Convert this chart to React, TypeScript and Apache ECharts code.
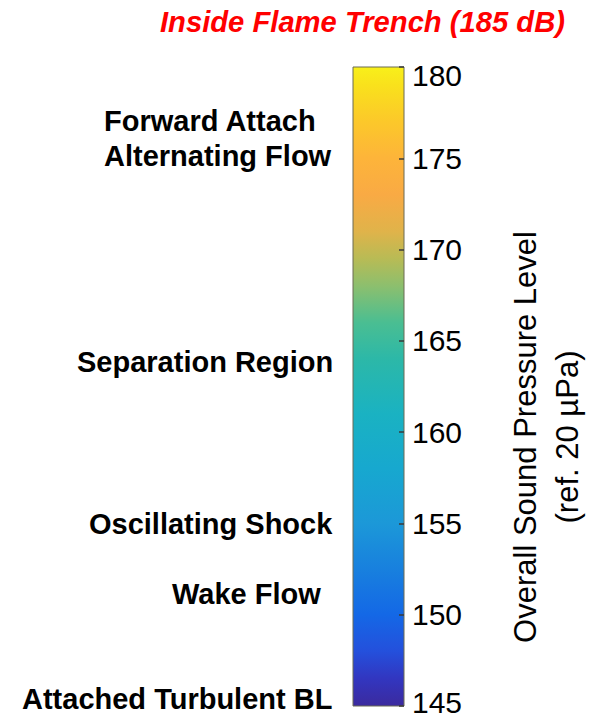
import React, { useEffect, useRef } from "react";
import * as echarts from "echarts";

// Colorbar value range (dB) and tick labels
const barRange = [145, 180];
const tickValues = [145, 150, 155, 160, 165, 170, 175, 180];

// Colormap stops (dB level -> colour)
const stopLevels = [145, 146.5, 148, 150, 152.5, 155, 158, 161, 164, 166, 168, 169.5, 171, 173, 175, 177, 179, 180];
const stopColors = [
  "#3b2a9e", "#3236c0", "#2450dc", "#1468e6", "#1880de", "#1c98d8",
  "#17a8cf", "#1ab2c2", "#2cb8a8", "#4abe92", "#8cbf6e", "#b8bb55",
  "#e0b34a", "#f9aa44", "#fdb43a", "#fcc82a", "#f9e11c", "#f8f01a",
];

// Text
const titleText = "Inside Flame Trench (185 dB)";
const axisTitle = ["Overall Sound Pressure Level", "(ref. 20 µPa)"];
const regionLabels = [
  "Forward Attach",
  "Alternating Flow",
  "Separation Region",
  "Oscillating Shock",
  "Wake Flow",
  "Attached Turbulent BL",
];
// layout of the region labels (pixels): left x, vertical centre y
const regionLabelX = [104, 104, 77, 89, 172, 22];
const regionLabelY = [121, 156, 362, 524, 594, 699];

const FONT = "'Liberation Sans', Arial, Helvetica, sans-serif";

export default function App() {
  const ref = useRef<HTMLDivElement>(null);

  useEffect(() => {
    if (!ref.current) return;
    const chart = echarts.init(ref.current, null, { renderer: "svg" });
    const span = barRange[1] - barRange[0];
    const gradientStops = stopLevels.map((lv, i) => ({
      offset: (lv - barRange[0]) / span,
      color: stopColors[i],
    }));

    const option: any = {
      animation: false,
      backgroundColor: "#ffffff",
      grid: { left: 353, top: 67, width: 51, height: 639 },
      xAxis: { type: "category", data: ["OASPL"], show: false },
      yAxis: {
        type: "value",
        position: "right",
        min: barRange[0],
        max: barRange[1],
        interval: 5,
        z: 10,
        axisLine: { show: false },
        splitLine: { show: false },
        axisTick: { show: true, inside: true, length: 5, lineStyle: { color: "#3a3a3a", width: 1.5 } },
        axisLabel: {
          margin: 8,
          color: "#000",
          fontSize: 30,
          fontFamily: FONT,
          formatter: (v: number) =>
            v === tickValues[tickValues.length - 1]
              ? "{hi|" + v + "}"
              : v === tickValues[0]
              ? "{lo|" + v + "}"
              : "{n|" + v + "}",
          rich: {
            n: { fontSize: 30, fontFamily: FONT, color: "#000" },
            hi: { fontSize: 30, fontFamily: FONT, color: "#000", padding: [16, 0, 0, 0] },
            lo: { fontSize: 30, fontFamily: FONT, color: "#000", padding: [0, 0, 8, 0] },
          },
        },
      },
      series: [
        {
          type: "custom",
          data: [["OASPL", barRange[0], barRange[1]]],
          renderItem: (params: any, api: any) => {
            const p0 = api.coord([api.value(0), api.value(1)]);
            const p1 = api.coord([api.value(0), api.value(2)]);
            const w = api.size([1, 0])[0];
            return {
              type: "rect",
              shape: { x: p0[0] - w / 2, y: p1[1], width: w, height: p0[1] - p1[1] },
              style: {
                fill: new echarts.graphic.LinearGradient(0, 1, 0, 0, gradientStops),
                stroke: "#6b6a55",
                lineWidth: 1,
              },
            };
          },
          z: 1,
        },
      ],
      graphic: [
        {
          type: "text",
          x: 160,
          y: 22,
          style: {
            text: titleText,
            fill: "#ff0000",
            font: "italic bold 29.2px " + FONT,
            textAlign: "left",
            textVerticalAlign: "middle",
          },
        },
        {
          type: "text",
          x: 546,
          y: 437,
          rotation: Math.PI / 2,
          style: {
            text: axisTitle.join("\n"),
            fill: "#000",
            font: "31px " + FONT,
            lineHeight: 42,
            textAlign: "center",
            textVerticalAlign: "middle",
          },
        },
        ...regionLabels.map((t, i) => ({
          type: "text",
          x: regionLabelX[i],
          y: regionLabelY[i],
          style: {
            text: t,
            fill: "#000",
            font: "bold 29px " + FONT,
            textAlign: "left",
            textVerticalAlign: "middle",
          },
        })),
      ],
    };
    chart.setOption(option);
    return () => chart.dispose();
  }, []);

  return (
    <div
      ref={ref}
      style={{ position: "absolute", left: 0, top: 0, width: 606, height: 717 }}
    />
  );
}
